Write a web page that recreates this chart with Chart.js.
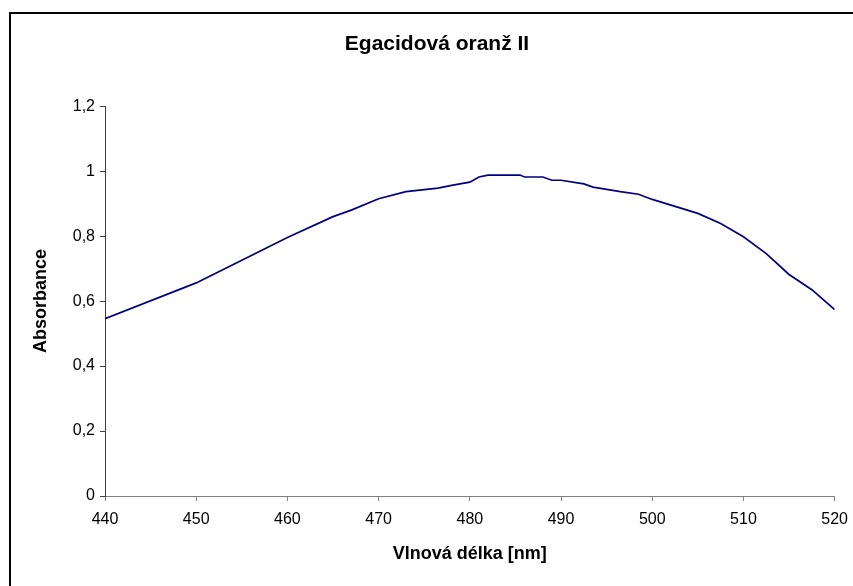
<!DOCTYPE html>
<html>
<head>
<meta charset="utf-8">
<title>Egacidová oranž II</title>
<script src="https://cdn.jsdelivr.net/npm/chart.js"></script>
<style>
  html, body { margin: 0; padding: 0; background: #fff; overflow: hidden; }
  #wrap { position: absolute; left: 0; top: 0; width: 857px; height: 586px; }
  #frame {
    position: absolute; left: 9px; top: 12px; width: 900px; height: 700px;
    border: 2px solid #000; pointer-events: none;
  }
</style>
</head>
<body>
<div id="wrap"><canvas id="chart" width="857" height="586"></canvas></div>
<div id="frame"></div>
<script>
// spectrum
const wavelengths = [440, 450, 460, 465, 467, 470, 473, 476.5, 478, 480, 481, 482, 485.5, 486, 488, 489, 490, 492.5, 493.5, 496.5, 498.5, 500, 505, 507.5, 510, 512.5, 515, 517.5, 520];
const absorbance = [0.546, 0.656, 0.796, 0.860, 0.880, 0.915, 0.937, 0.948, 0.956, 0.966, 0.982, 0.988, 0.988, 0.982, 0.982, 0.972, 0.972, 0.961, 0.951, 0.937, 0.929, 0.913, 0.870, 0.839, 0.798, 0.746, 0.682, 0.635, 0.574];
const yTickLabels = ['0', '0,2', '0,4', '0,6', '0,8', '1', '1,2'];
const xTickLabels = ['440', '450', '460', '470', '480', '490', '500', '510', '520'];

const points = wavelengths.map((w, i) => ({ x: w, y: absorbance[i] }));

const ctx = document.getElementById('chart').getContext('2d');
new Chart(ctx, {
  type: 'scatter',
  data: {
    datasets: [{
      label: 'Absorbance',
      data: points,
      showLine: true,
      borderColor: '#000080',
      borderWidth: 1.7,
      pointRadius: 0,
      tension: 0,
      fill: false,
    }],
  },
  options: {
    responsive: false,
    animation: false,
    layout: { padding: { left: 30, right: 13, top: 0, bottom: 0 } },
    plugins: {
      legend: { display: false },
      tooltip: { enabled: false },
      title: {
        display: true,
        text: 'Egacidová oranž II',
        color: '#000',
        font: { family: 'Liberation Sans, Arial', size: 21, weight: 'bold' },
        padding: { top: 32, bottom: 49 },
      },
    },
    scales: {
      x: {
        type: 'linear',
        min: 440,
        max: 520,
        afterFit: (scale) => { scale.height = 90; },
        ticks: {
          stepSize: 10,
          padding: 9,
          color: '#000',
          font: { family: 'Liberation Sans, Arial', size: 16 },
          callback: (v, i) => xTickLabels[i],
        },
        grid: { drawOnChartArea: false, tickLength: 5, color: '#808080' },
        border: { color: '#808080', width: 1 },
        title: {
          display: true,
          text: 'Vlnová délka [nm]',
          color: '#000',
          font: { family: 'Liberation Sans, Arial', size: 18, weight: 'bold' },
          padding: { top: 4, bottom: 21 },
        },
      },
      y: {
        min: 0,
        max: 1.2,
        afterFit: (scale) => { scale.width = 75; },
        ticks: {
          stepSize: 0.2,
          padding: 5,
          color: '#000',
          font: { family: 'Liberation Sans, Arial', size: 16 },
          callback: (v, i) => yTickLabels[i],
        },
        grid: { drawOnChartArea: false, tickLength: 5, color: '#404040' },
        border: { color: '#404040', width: 1 },
        title: {
          display: true,
          text: 'Absorbance',
          color: '#000',
          font: { family: 'Liberation Sans, Arial', size: 18, weight: 'bold' },
          padding: { top: 0, bottom: 0 },
        },
      },
    },
  },
});
</script>
</body>
</html>
